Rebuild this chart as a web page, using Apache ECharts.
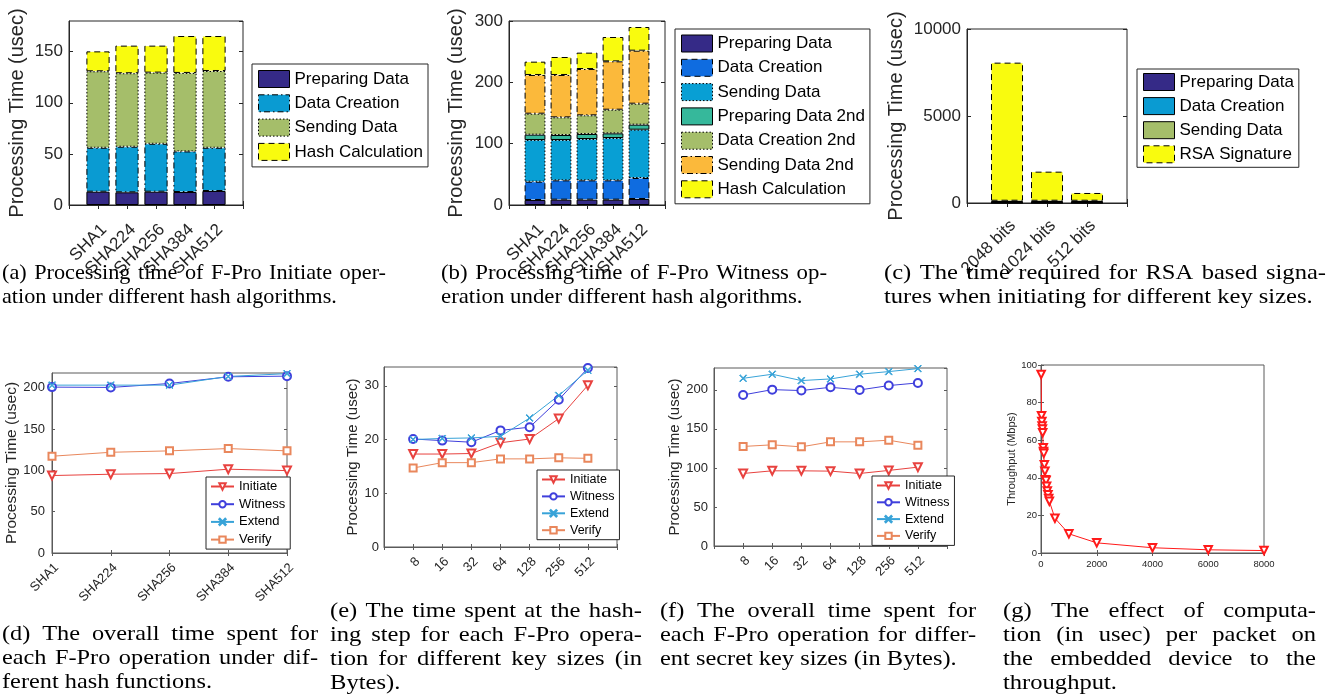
<!DOCTYPE html>
<html>
<head>
<meta charset="utf-8">
<script src="https://cdn.jsdelivr.net/npm/echarts@6/dist/echarts.min.js"></script>
<style>
  html, body { margin: 0; padding: 0; background: #fff; }
  #wrap { position: relative; width: 1332px; height: 698px; }
  .layer { position: absolute; left: 0; top: 0; width: 1332px; height: 698px; }
</style>
</head>
<body>
<div id="wrap"></div>
<script>
// ---- data ----
const hashAlgos = ['SHA1', 'SHA224', 'SHA256', 'SHA384', 'SHA512'];

// (a) F-Pro Initiate
const initPrep = [13.0, 12.4, 13.0, 12.7, 13.7];
const initCreation = [43.0, 44.6, 46.9, 39.7, 42.3];
const initSending = [74.8, 71.9, 69.6, 76.8, 75.1];
const initHash = [19.5, 27.0, 26.4, 36.1, 34.2];

// (b) F-Pro Witness
const witPrep = [8.2, 8.7, 8.7, 8.7, 9.8];
const witCreation = [29.8, 31.5, 31.5, 31.5, 34.2];
const witSending = [68.0, 65.8, 67.4, 69.0, 78.8];
const witPrep2 = [8.7, 8.1, 8.2, 7.6, 8.2];
const witCreation2 = [34.2, 28.8, 30.4, 38.6, 34.2];
const witSending2 = [63.1, 69.1, 75.5, 78.8, 86.4];
const witHash = [21.7, 29.3, 26.7, 39.7, 38.6];

// (c) RSA signatures
const rsaKeys = ['2048 bits', '1024 bits', '512 bits'];
const rsaPrep = [13, 13, 13];
const rsaCreation = [43, 43, 43];
const rsaSending = [75, 75, 75];
const rsaSign = [7935, 1670, 445];

// (d) overall time per hash function
const totInitiate = [93.8, 95.4, 96.2, 101.5, 99.8];
const totWitness = [200.9, 200.5, 205.3, 213.4, 214.2];
const totExtend = [203.3, 203.3, 203.3, 213.8, 217.2];
const totVerify = [117.2, 122.0, 123.7, 126.5, 123.7];

// (e) hashing step per key size
const keySizes = ['8', '16', '32', '64', '128', '256', '512'];
const hashInitiate = [17.3, 17.3, 17.4, 19.4, 20.1, 23.9, 30.1];
const hashWitness = [20.1, 19.8, 19.5, 21.7, 22.3, 27.4, 33.3];
const hashExtend = [20.0, 20.2, 20.3, 20.6, 24.0, 28.2, 32.9];
const hashVerify = [14.7, 15.7, 15.7, 16.4, 16.4, 16.6, 16.5];

// (f) overall time per secret key size
const keyInitiate = [92.9, 96.3, 96.3, 95.9, 92.9, 96.8, 101.0];
const keyWitness = [193.5, 200.3, 199.1, 203.3, 199.9, 205.5, 208.9];
const keyExtend = [214.8, 220.0, 211.9, 214.0, 220.0, 223.4, 227.2];
const keyVerify = [127.5, 129.6, 127.0, 133.4, 133.4, 135.5, 129.2];

// (g) throughput vs computation per packet
const computeUsec = [5, 20, 30, 40, 50, 60, 80, 90, 100, 120, 140, 160, 180, 200, 225, 250, 275, 300, 500, 1000, 2000, 4000, 6000, 8000];
const throughputMbps = [95, 73, 70, 67.5, 66, 64, 56, 54, 53, 47, 43.5, 39, 38.5, 35.5, 33, 31, 29, 27.5, 18.5, 10.2, 5.4, 2.8, 1.7, 1.3];

const captions = {
  a: ['(a) Processing time of F-Pro Initiate oper-', 'ation under different hash algorithms.'],
  b: ['(b) Processing time of F-Pro Witness op-', 'eration under different hash algorithms.'],
  c: ['(c) The time required for RSA based signa-', 'tures when initiating for different key sizes.'],
  d: ['(d) The overall time spent for', 'each F-Pro operation under dif-', 'ferent hash functions.'],
  e: ['(e) The time spent at the hash-', 'ing step for each F-Pro opera-', 'tion for different key sizes (in', 'Bytes).'],
  f: ['(f) The overall time spent for', 'each F-Pro operation for differ-', 'ent secret key sizes (in Bytes).'],
  g: ['(g) The effect of computa-', 'tion (in usec) per packet on', 'the embedded device to the', 'throughput.'],
};

// ---- styling ----
const SANS = '"Liberation Sans", Arial, Helvetica, sans-serif';
const SERIF = '"Liberation Serif", "Times New Roman", serif';
const INK = '#262626';
const DASH = [6, 4];
const DOT = [1.5, 2];
const DASHDOT = [6, 3, 1.5, 3];

const C_INIT = '#e8423f';
const C_WIT = '#3f3fdc';
const C_EXT = '#38a3d8';
const C_VER = '#e9875c';
const X_MARK = 'path://M0,0.8L0.8,0L5,4.2L9.2,0L10,0.8L5.8,5L10,9.2L9.2,10L5,5.8L0.8,10L0,9.2L4.2,5Z';

const pad = a => [null, ...a, null];
const padCats = a => ['', ...a, ''];
const plain = v => String(v);

function layer() {
  const el = document.createElement('div');
  el.className = 'layer';
  document.getElementById('wrap').appendChild(el);
  return echarts.init(el);
}

// box-style axes (matlab look): ticks inside, mirrored on top/right
function frame(rect, x, y, boxColor, tickLen) {
  const line = { show: true, lineStyle: { color: boxColor, width: 1 } };
  const tick = { show: true, inside: true, length: tickLen, interval: 0, lineStyle: { color: boxColor, width: 1 } };
  const scaleOf = ax => ({ type: ax.type, data: ax.data, min: ax.min, max: ax.max, interval: ax.interval, boundaryGap: ax.boundaryGap });
  return {
    grid: { left: rect[0], top: rect[1], width: rect[2], height: rect[3], show: true, borderColor: boxColor, borderWidth: 1, backgroundColor: '#fff', containLabel: false, outerBoundsMode: 'none' },
    xAxis: [
      Object.assign({ position: 'bottom', axisLine: line, axisTick: tick, splitLine: { show: false } }, x),
      Object.assign(scaleOf(x), { position: 'top', axisLine: { show: false }, axisTick: tick, axisLabel: { show: false }, splitLine: { show: false } }),
    ],
    yAxis: [
      Object.assign({ position: 'left', axisLine: line, axisTick: tick, splitLine: { show: false }, nameLocation: 'middle' }, y),
      Object.assign(scaleOf(y), { position: 'right', axisLine: { show: false }, axisTick: tick, axisLabel: { show: false }, splitLine: { show: false } }),
    ],
  };
}

function barSeries(name, data, color, dash) {
  return {
    type: 'bar', name, data: pad(data), stack: 'total', barWidth: '80%',
    itemStyle: { color, borderColor: '#000', borderWidth: 1, borderType: dash || 'solid' },
    emphasis: { disabled: true },
  };
}

function lineSeries(name, data, color, symbol, size, rotate) {
  return {
    type: 'line', name, data, color, symbol, symbolSize: size, symbolRotate: rotate || 0,
    lineStyle: { color, width: 1 }, itemStyle: { color, borderColor: color, borderWidth: 1 },
    emphasis: { disabled: true }, animation: false,
  };
}

function barLegend(series, left, top, gap, padTop) {
  return {
    orient: 'vertical', left, top, itemWidth: 31, itemHeight: 17, itemGap: gap,
    padding: [padTop, 5, padTop, 6], borderColor: INK, borderWidth: 1, backgroundColor: '#fff',
    selectedMode: false, icon: 'rect',
    textStyle: { fontSize: 17, lineHeight: 17, color: '#000', fontFamily: SANS },
    data: series.map(s => ({ name: s.name, itemStyle: s.itemStyle })),
  };
}

function lineLegend(left, top, gap, fontSize) {
  return {
    orient: 'vertical', left, top, itemWidth: 23, itemHeight: 8, itemGap: gap,
    padding: [3, 5, 3, 4], borderColor: INK, borderWidth: 1, backgroundColor: '#fff',
    selectedMode: false,
    textStyle: { fontSize, lineHeight: 13, color: '#000', fontFamily: SANS },
    data: ['Initiate', 'Witness', 'Extend', 'Verify'],
  };
}

function opSeries(ini, wit, ext, ver, wrap, size) {
  return [
    lineSeries('Initiate', wrap(ini), C_INIT, 'emptyTriangle', size, 180),
    lineSeries('Witness', wrap(wit), C_WIT, 'emptyCircle', size),
    lineSeries('Extend', wrap(ext), C_EXT, X_MARK, size - 1),
    lineSeries('Verify', wrap(ver), C_VER, 'emptyRect', size - 1),
  ];
}

const bigLabel = { color: INK, fontSize: 17, fontFamily: SANS };
const bigName = { color: INK, fontSize: 20, fontFamily: SANS };
const bigX = m => Object.assign({ rotate: 45, margin: m, interval: 0, align: 'right', verticalAlign: 'top' }, bigLabel);

// (a)
(function () {
  const series = [
    barSeries('Preparing Data', initPrep, '#352a87'),
    barSeries('Data Creation', initCreation, '#0a9bd2', DASHDOT),
    barSeries('Sending Data', initSending, '#a5be6a', DOT),
    barSeries('Hash Calculation', initHash, '#f9fb0e', DASH),
  ];
  const f = frame([69, 21, 174, 184],
    { type: 'category', data: padCats(hashAlgos), boundaryGap: false, axisLabel: bigX(16) },
    { type: 'value', min: 0, max: 180, interval: 50, name: 'Processing Time (usec)', nameGap: 42, nameTextStyle: bigName, axisLabel: Object.assign({ margin: 6, showMaxLabel: false }, bigLabel) },
    INK, 4);
  layer().setOption(Object.assign(f, { animation: false, legend: barLegend(series, 252, 64, 6.3, 6), series }));
})();

// (b)
(function () {
  const series = [
    barSeries('Preparing Data', witPrep, '#352a87'),
    barSeries('Data Creation', witCreation, '#0f6ce0', DASH),
    barSeries('Sending Data', witSending, '#089fd4', DOT),
    barSeries('Preparing Data 2nd', witPrep2, '#36b89b'),
    barSeries('Data Creation 2nd', witCreation2, '#a5be6a', DOT),
    barSeries('Sending Data 2nd', witSending2, '#fbb93b', DASHDOT),
    barSeries('Hash Calculation', witHash, '#f9fb0e', DASH),
  ];
  const f = frame([509, 21, 156, 184],
    { type: 'category', data: padCats(hashAlgos), boundaryGap: false, axisLabel: bigX(16) },
    { type: 'value', min: 0, max: 300, interval: 100, name: 'Processing Time (usec)', nameGap: 43, nameTextStyle: bigName, axisLabel: Object.assign({ margin: 6 }, bigLabel) },
    INK, 4);
  layer().setOption(Object.assign(f, { animation: false, legend: barLegend(series, 675, 29, 6.3, 5.5), series }));
})();

// (c)
(function () {
  const series = [
    barSeries('Preparing Data', rsaPrep, '#352a87'),
    barSeries('Data Creation', rsaCreation, '#0a9bd2'),
    barSeries('Sending Data', rsaSending, '#a5be6a'),
    barSeries('RSA Signature', rsaSign, '#f9fb0e', DASH),
  ];
  const f = frame([967, 29, 160, 174],
    { type: 'category', data: padCats(rsaKeys), boundaryGap: false, axisLabel: bigX(14) },
    { type: 'value', min: 0, max: 10000, interval: 5000, name: 'Processing Time (usec)', nameGap: 61, nameTextStyle: bigName, axisLabel: Object.assign({ margin: 6, formatter: plain }, bigLabel) },
    INK, 4);
  layer().setOption(Object.assign(f, { animation: false, legend: barLegend(series, 1137, 69, 6.1, 4), series }));
})();

const midLabel = { color: INK, fontSize: 13, fontFamily: SANS };
const midName = { color: INK, fontSize: 15.5, fontFamily: SANS };
const midX = Object.assign({ rotate: 45, margin: 8, interval: 0, align: 'right', verticalAlign: 'top' }, midLabel);
const BOX2 = '#5a5a5a';

// (d)
(function () {
  const f = frame([52, 373, 235, 180],
    { type: 'category', data: hashAlgos, boundaryGap: false, axisLabel: midX },
    { type: 'value', min: 0, max: 218, interval: 50, name: 'Processing Time (usec)', nameGap: 24, nameTextStyle: midName, axisLabel: Object.assign({ margin: 7, showMaxLabel: false }, midLabel) },
    BOX2, 3);
  layer().setOption(Object.assign(f, { animation: false, legend: lineLegend(206, 477, 4.7, 13),
    series: opSeries(totInitiate, totWitness, totExtend, totVerify, a => a, 8) }));
})();

// (e)
(function () {
  const f = frame([384, 367, 233, 180],
    { type: 'category', data: padCats(keySizes), boundaryGap: false, axisLabel: midX },
    { type: 'value', min: 0, max: 33.5, interval: 10, name: 'Processing Time (usec)', nameGap: 21, nameTextStyle: { color: INK, fontSize: 15, fontFamily: SANS }, axisLabel: Object.assign({ margin: 5, showMaxLabel: false }, midLabel) },
    BOX2, 3);
  layer().setOption(Object.assign(f, { animation: false, legend: lineLegend(537, 470, 3.9, 12.5),
    series: opSeries(hashInitiate, hashWitness, hashExtend, hashVerify, pad, 8) }));
})();

// (f)
(function () {
  const f = frame([714, 368, 233, 178],
    { type: 'category', data: padCats(keySizes), boundaryGap: false, axisLabel: midX },
    { type: 'value', min: 0, max: 228, interval: 50, name: 'Processing Time (usec)', nameGap: 21, nameTextStyle: { color: INK, fontSize: 15, fontFamily: SANS }, axisLabel: Object.assign({ margin: 6, showMaxLabel: false }, midLabel) },
    BOX2, 3);
  layer().setOption(Object.assign(f, { animation: false, legend: lineLegend(872, 476, 3.8, 12.5),
    series: opSeries(keyInitiate, keyWitness, keyExtend, keyVerify, pad, 8) }));
})();

// (g)
(function () {
  const small = { color: INK, fontSize: 9.5, fontFamily: SANS };
  const f = frame([1041, 365, 223, 188],
    { type: 'value', min: 0, max: 8000, interval: 2000, axisLabel: Object.assign({ margin: 6, formatter: plain }, small) },
    { type: 'value', min: 0, max: 100, interval: 20, name: 'Throughput (Mbps)', nameGap: 24, nameTextStyle: { color: INK, fontSize: 11, fontFamily: SANS }, axisLabel: Object.assign({ margin: 4 }, small) },
    BOX2, 3);
  const pts = computeUsec.map((x, i) => [x, throughputMbps[i]]);
  layer().setOption(Object.assign(f, { animation: false,
    series: [lineSeries('Throughput', pts, '#ff1a1a', 'emptyTriangle', 7.5, 180)] }));
})();

// ---- captions (justified like the paper; the scan is a bit wide) ----
const measure = document.createElement('canvas').getContext('2d');
const CAP_SIZE = 21;
const CAP_SX = 1.17;
const CAP_LEAD = 24;
function captionText(lines, left, right, top) {
  const font = CAP_SIZE + 'px ' + SERIF;
  measure.font = font;
  const natural = lines.map(l => measure.measureText(l).width);
  const widest = Math.max(...natural.slice(0, -1));
  // widen glyphs, but never so much that a justified line overflows its column
  const sx = Math.min(CAP_SX, 0.97 * (right - left) / widest);
  const spaceW = measure.measureText(' ').width * sx;
  const out = [];
  lines.forEach((line, i) => {
    const words = line.split(' ');
    const ws = words.map(w => measure.measureText(w).width * sx);
    const total = ws.reduce((s, w) => s + w, 0);
    const last = i === lines.length - 1;
    const gap = last || words.length < 2 ? spaceW : (right - left - total) / (words.length - 1);
    let x = left;
    words.forEach((w, k) => {
      out.push({ type: 'text', x, y: top + i * CAP_LEAD, scaleX: sx, silent: true,
        style: { text: w, font, fill: '#000', align: 'left', verticalAlign: 'middle' } });
      x += ws[k] + gap;
    });
  });
  return out;
}

layer().setOption({
  animation: false,
  graphic: [].concat(
    captionText(captions.a, 2, 386, 273),
    captionText(captions.b, 441, 827, 273),
    captionText(captions.c, 884, 1326, 273),
    captionText(captions.d, 2, 318, 634),
    captionText(captions.e, 330, 642, 611),
    captionText(captions.f, 660, 976, 611),
    captionText(captions.g, 1003, 1316, 611)
  ),
});
</script>
</body>
</html>
